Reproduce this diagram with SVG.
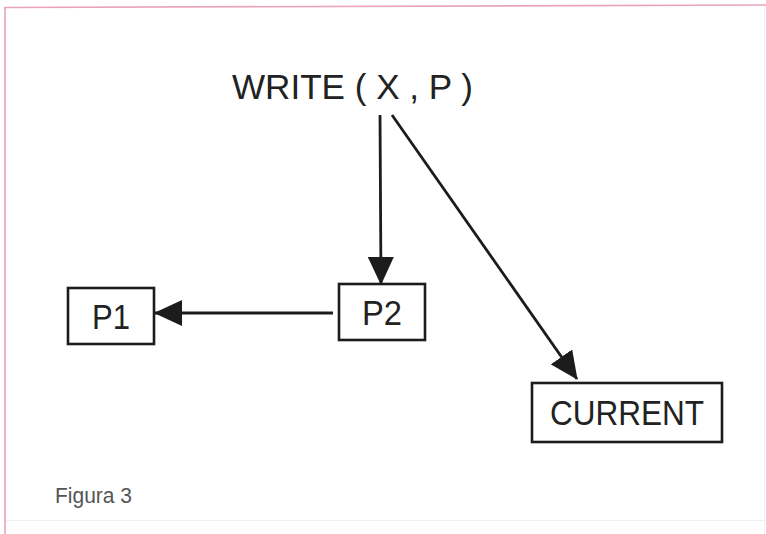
<svg xmlns="http://www.w3.org/2000/svg" width="766" height="534" viewBox="0 0 766 534">
  <style>
    .box { fill: none; stroke: #1c1c1c; stroke-width: 2.6; }
    .lbl { font-family: "Liberation Sans", Arial, sans-serif; font-size: 35px; fill: #222; }
    .edge { stroke: #1c1c1c; stroke-width: 2.8; fill: none; marker-end: url(#head); }
  </style>
  <defs>
    <marker id="head" viewBox="0 0 28 26" refX="27" refY="13" markerWidth="28" markerHeight="26" markerUnits="userSpaceOnUse" orient="auto">
      <path d="M0,0 L28,13 L0,26 Z" fill="#1c1c1c"/>
    </marker>
  </defs>
  <rect width="766" height="534" fill="#ffffff"/>
  <!-- page frame -->
  <g id="frame" fill="none">
    <line x1="4" y1="7.5" x2="766" y2="5" stroke="#e9a3bc" stroke-width="1.6"/>
    <line x1="5" y1="7" x2="5" y2="534" stroke="#e9a3bc" stroke-width="1.6"/>
    <line x1="6" y1="520.5" x2="766" y2="520.5" stroke="#eaf1f5" stroke-width="1.2"/>
    <line x1="764.5" y1="6" x2="764.5" y2="534" stroke="#f1f4f6" stroke-width="1"/>
  </g>

  <g id="write">
    <text class="lbl" x="232" y="99" textLength="241" lengthAdjust="spacingAndGlyphs">WRITE ( X , P )</text>
  </g>

  <g id="p2">
    <rect class="box" x="339" y="284" width="86" height="56"/>
    <text class="lbl" x="382" y="325" text-anchor="middle" textLength="40" lengthAdjust="spacingAndGlyphs">P2</text>
  </g>

  <g id="p1">
    <rect class="box" x="68" y="288" width="86" height="56"/>
    <text class="lbl" x="111" y="329" text-anchor="middle" textLength="38" lengthAdjust="spacingAndGlyphs">P1</text>
  </g>

  <g id="current">
    <rect class="box" x="532" y="383" width="190" height="59"/>
    <text class="lbl" x="627" y="425" text-anchor="middle" textLength="154" lengthAdjust="spacingAndGlyphs">CURRENT</text>
  </g>

  <g id="connectors">
    <line class="edge" x1="380" y1="115" x2="381" y2="284"/>
    <line class="edge" x1="333" y1="313" x2="155" y2="313"/>
    <line class="edge" x1="392" y1="115" x2="577" y2="379"/>
  </g>

  <g id="caption">
    <text x="55" y="503" font-family="Liberation Sans, Arial, sans-serif" font-size="22" fill="#555" textLength="77" lengthAdjust="spacingAndGlyphs">Figura 3</text>
  </g>
</svg>
